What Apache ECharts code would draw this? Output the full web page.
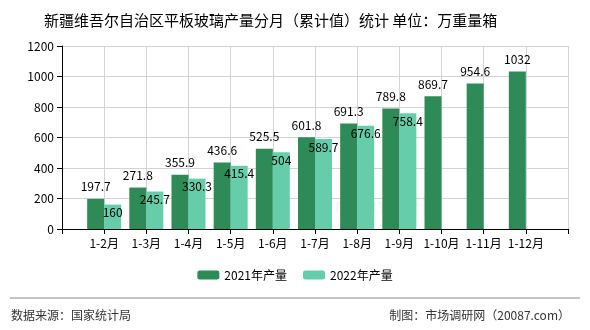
<!DOCTYPE html>
<html>
<head>
<meta charset="utf-8">
<style>
html,body{margin:0;padding:0;background:#fff;}
#chart{width:590px;height:330px;}
</style>
<script src="https://cdn.jsdelivr.net/npm/echarts@6/dist/echarts.min.js"></script>
</head>
<body>
<div id="chart"></div>
<script>
// Monthly cumulative flat glass output, 10k weight boxes
var categories = ['', '1-2月', '1-3月', '1-4月', '1-5月', '1-6月', '1-7月', '1-8月', '1-9月', '1-10月', '1-11月', '1-12月', ''];
var output2021 = [null, 197.7, 271.8, 355.9, 436.6, 525.5, 601.8, 691.3, 789.8, 869.7, 954.6, 1032, null];
var output2022 = [null, 160, 245.7, 330.3, 415.4, 504, 589.7, 676.6, 758.4, null, null, null, null];
var seriesNames = ['2021年产量', '2022年产量'];
var yTicks = { min: 0, max: 1200, interval: 200 };

var font = '"Noto Sans CJK SC", "DejaVu Sans", sans-serif';
var chart = echarts.init(document.getElementById('chart'));
chart.setOption({
  animation: false,
  backgroundColor: '#fff',
  title: {
    text: '新疆维吾尔自治区平板玻璃产量分月（累计值）统计 单位：万重量箱',
    left: 39, top: 8,
    textStyle: { fontSize: 15, fontWeight: 'normal', color: '#000', fontFamily: font }
  },
  legend: {
    bottom: 44, left: 'center',
    itemWidth: 22, itemHeight: 9, itemGap: 16,
    textStyle: { fontSize: 12, color: '#000', fontFamily: font },
    data: seriesNames
  },
  grid: { left: 62, right: 22, top: 46, bottom: 101 },
  xAxis: {
    type: 'category',
    boundaryGap: false,
    data: categories,
    axisLine: { lineStyle: { color: '#000' } },
    axisTick: { show: true, interval: 0, length: 5, lineStyle: { color: '#000' } },
    axisLabel: { interval: 0, color: '#000', fontSize: 12, margin: 8, fontFamily: font },
    splitLine: { show: true, interval: 0, lineStyle: { color: '#d3d3d3' } }
  },
  yAxis: {
    type: 'value',
    min: yTicks.min, max: yTicks.max, interval: yTicks.interval,
    axisLine: { show: true, lineStyle: { color: '#000' } },
    axisTick: { show: true, length: 5, lineStyle: { color: '#000' } },
    axisLabel: { color: '#000', fontSize: 12, margin: 8, fontFamily: font, formatter: function (v) { return String(v); } },
    splitLine: { lineStyle: { color: '#d3d3d3' } }
  },
  series: [
    {
      name: seriesNames[0], type: 'bar', data: output2021,
      barWidth: 17, barGap: '0%',
      itemStyle: { color: '#2e8b57' },
      label: { show: true, position: 'top', distance: 6, color: '#000', fontSize: 12, fontFamily: font }
    },
    {
      name: seriesNames[1], type: 'bar', data: output2022,
      barWidth: 17, barGap: '0%',
      itemStyle: { color: '#66cdaa' },
      label: { show: true, position: 'insideTop', distance: 2, color: '#000', fontSize: 12, fontFamily: font }
    }
  ],
  graphic: [
    { type: 'line', shape: { x1: 10, y1: 298, x2: 580, y2: 298 }, style: { stroke: '#888', lineWidth: 1 } },
    { type: 'text', left: 11, top: 309, style: { text: '数据来源：国家统计局', fontSize: 12, fill: '#333', fontFamily: font } },
    { type: 'text', right: 20, top: 309, style: { text: '制图：市场调研网（20087.com）', fontSize: 12, fill: '#333', fontFamily: font } },
    { type: 'text', left: 333, top: 194, silent: true, style: { text: '市场调研网', fontSize: 22, fill: 'rgba(0,0,0,0.04)', fontFamily: font } }
  ]
});
</script>
</body>
</html>
